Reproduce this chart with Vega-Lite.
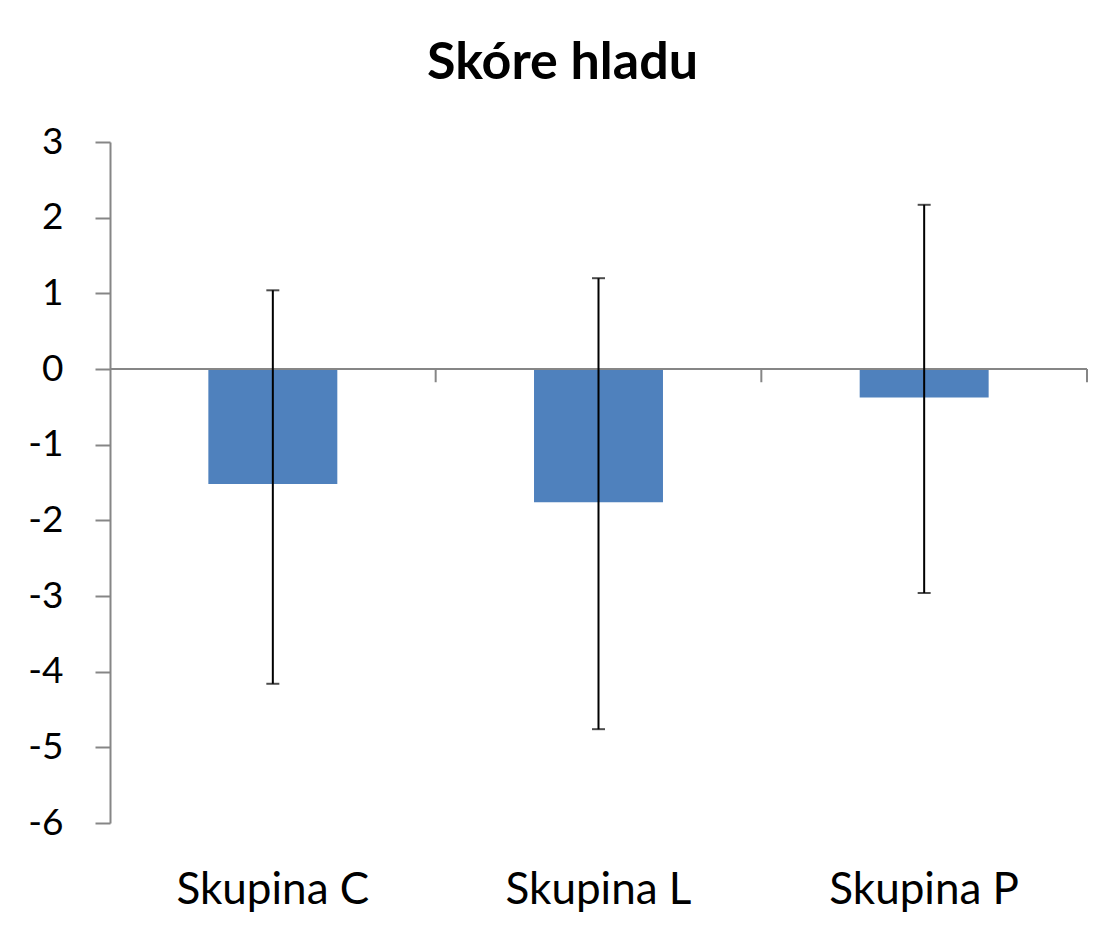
{
  "$schema": "https://vega.github.io/schema/vega-lite/v6.json",
  "width": 977,
  "height": 681,
  "autosize": "none",
  "padding": {"left": 110, "top": 142, "right": 12, "bottom": 104},
  "background": "white",
  "config": {"view": {"stroke": null}, "font": "Lato"},
  "title": {"text": "Skóre hladu", "font": "Lato", "fontSize": 52, "fontWeight": "bold", "color": "#000000", "anchor": "middle", "baseline": "alphabetic", "offset": 62, "dy": 70, "dx": -36},
  "data": {"values": [
    {"group": "Skupina C", "mean": -1.52, "lo": -4.16, "hi": 1.04},
    {"group": "Skupina L", "mean": -1.76, "lo": -4.76, "hi": 1.2},
    {"group": "Skupina P", "mean": -0.375, "lo": -2.96, "hi": 2.17}
  ]},
  "layer": [
    {
      "mark": {"type": "bar", "color": "#4F81BD", "width": {"band": 0.396}},
      "encoding": {
        "x": {"field": "group", "type": "nominal", "sort": null,
          "scale": {"paddingInner": 0, "paddingOuter": 0},
          "axis": {"title": null, "domain": false, "ticks": false, "tickSize": 0, "labelAngle": 0, "labelFontSize": 44, "labelLimit": 0, "labelColor": "#000000", "labelFont": "Lato", "labelBaseline": "alphabetic", "labelPadding": 80}},
        "y": {"field": "mean", "type": "quantitative",
          "scale": {"domain": [-6, 3], "nice": false, "zero": false},
          "axis": {"title": null, "values": [-6, -5, -4, -3, -2, -1, 0, 1, 2, 3], "labelExpr": "'' + datum.value", "grid": false, "domainColor": "#868686", "domainWidth": 2, "tickColor": "#868686", "tickWidth": 2, "tickSize": 15, "labelFontSize": 37, "labelColor": "#000000", "labelFont": "Lato", "labelPadding": 32, "labelBaseline": "middle"}}
      }
    },
    {
      "mark": {"type": "rule", "color": "#868686", "strokeWidth": 2},
      "encoding": {"y": {"datum": 0}}
    },
    {
      "mark": {"type": "rule", "color": "#868686", "strokeWidth": 2},
      "encoding": {"x": {"field": "group", "type": "nominal", "bandPosition": 1}, "y": {"datum": 0}, "y2": {"datum": -0.175}}
    },
    {
      "mark": {"type": "rule", "color": "#000000", "strokeWidth": 2},
      "encoding": {"x": {"field": "group", "type": "nominal"}, "y": {"field": "lo", "type": "quantitative"}, "y2": {"field": "hi"}}
    },
    {
      "mark": {"type": "tick", "color": "#000000", "size": 13, "thickness": 2, "orient": "horizontal"},
      "encoding": {"x": {"field": "group", "type": "nominal"}, "y": {"field": "lo", "type": "quantitative"}}
    },
    {
      "mark": {"type": "tick", "color": "#000000", "size": 13, "thickness": 2, "orient": "horizontal"},
      "encoding": {"x": {"field": "group", "type": "nominal"}, "y": {"field": "hi", "type": "quantitative"}}
    }
  ]
}
